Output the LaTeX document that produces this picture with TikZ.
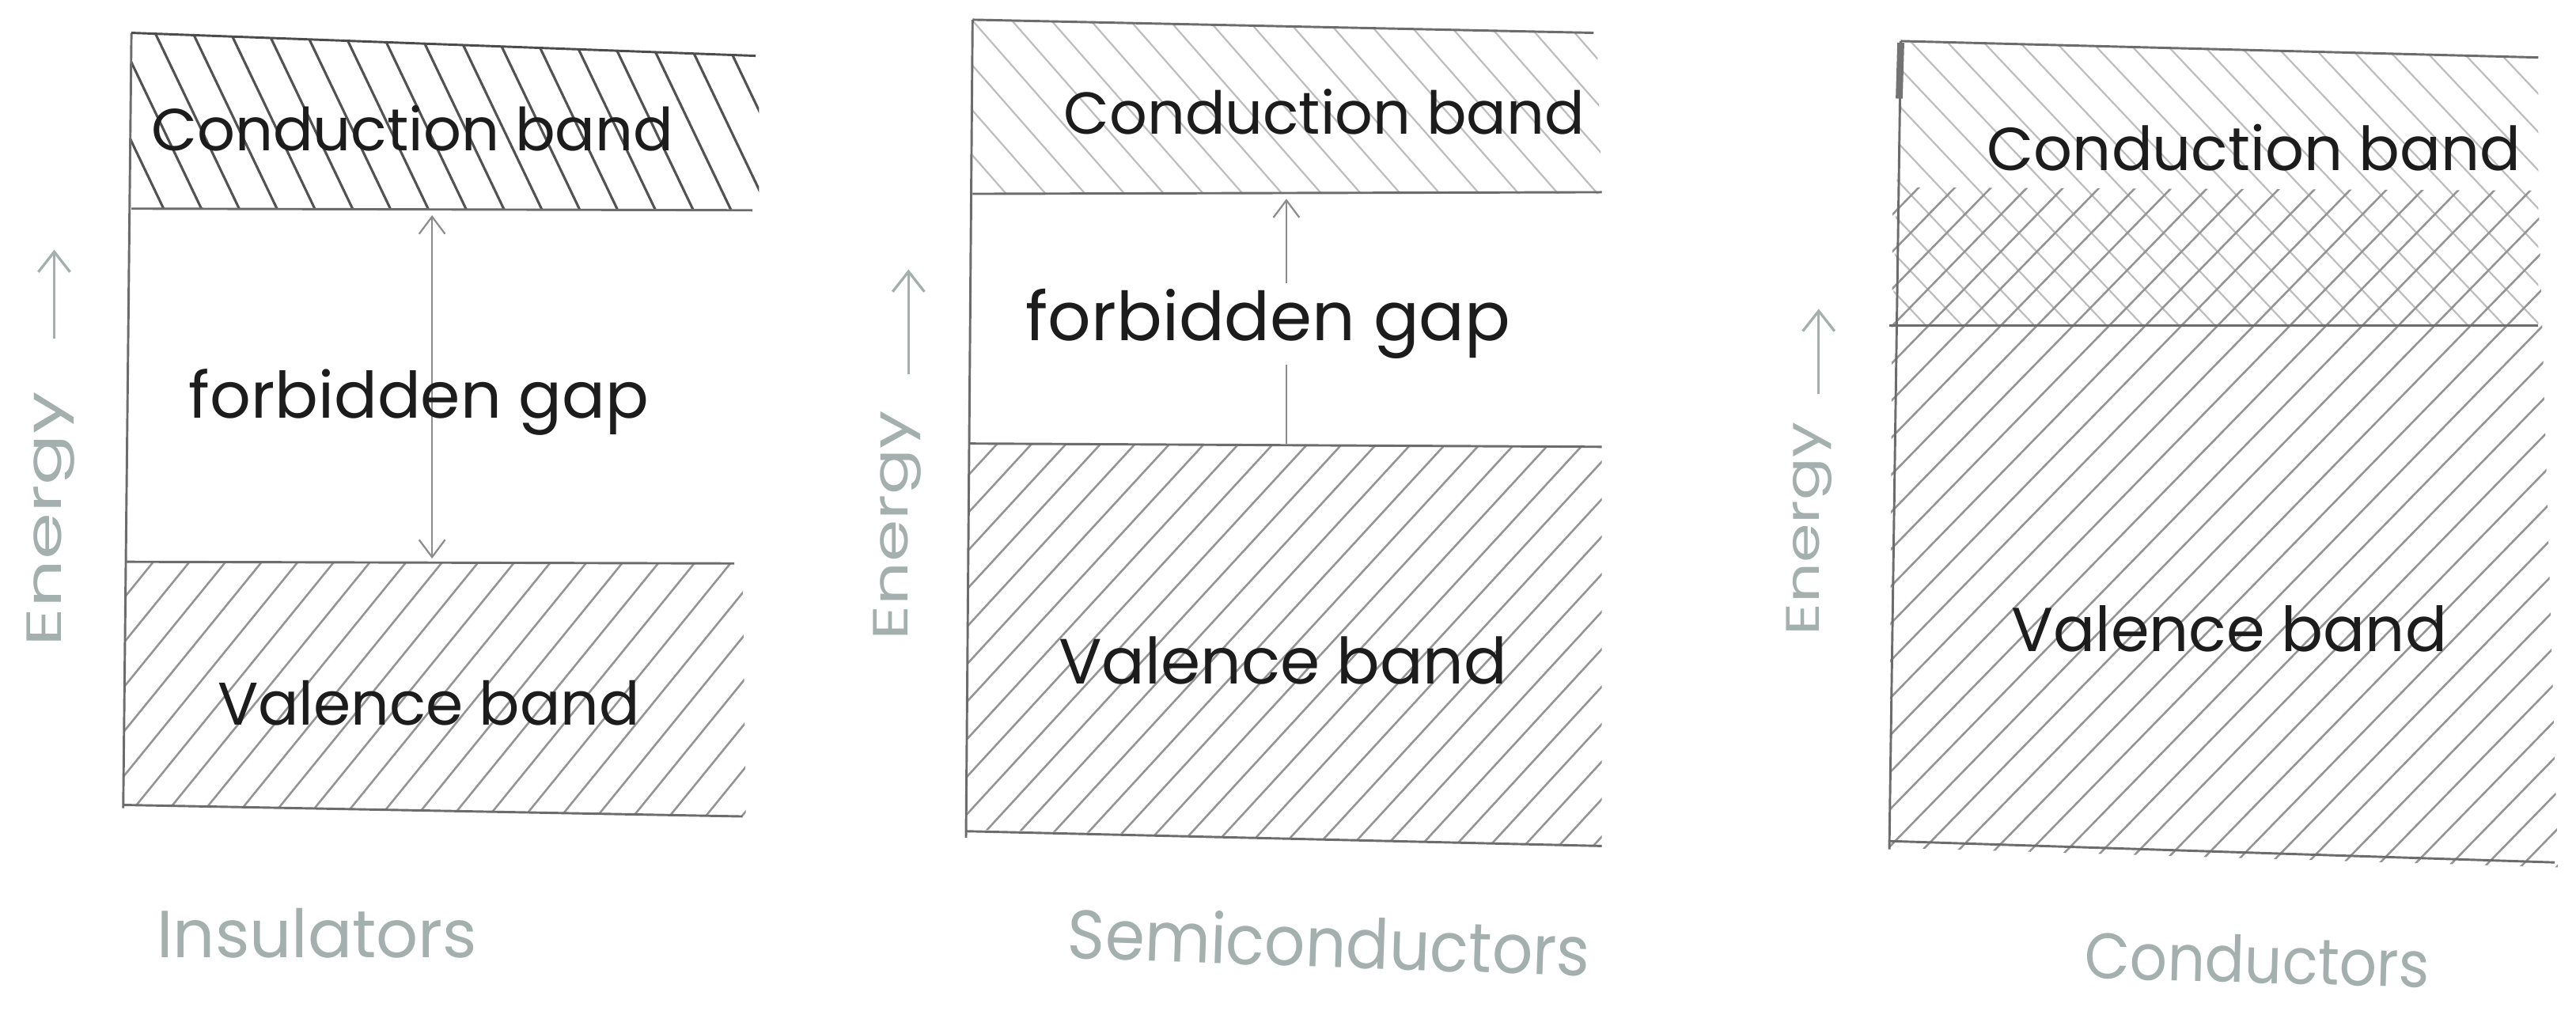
\documentclass[tikz,border=0pt]{standalone}
\usepackage{fontspec}
\usetikzlibrary{arrows.meta}
\newfontfamily\hand{Poppins}
\definecolor{ink}{HTML}{1C1C1C}
\definecolor{pale}{HTML}{A3B0AE}
\definecolor{rule}{HTML}{6C6C6C}
% set a label at a given width in the hand font
\newcommand\lab[2]{\resizebox{#1}{!}{\hand #2}}
\newcommand\plab[3]{\resizebox{#1}{#2}{\hand #3}}
% "/" hatching: xmin, xmax, ytop, ybot, spacing, horizontal run, style
\newcommand\hatchfwd[7]{%
  \pgfmathtruncatemacro\hA{#1-#6}%
  \pgfmathtruncatemacro\hB{#1-#6+#5}%
  \foreach \xx in {\hA,\hB,...,#2} \draw[#7] (\xx,#4) -- ++(#6,#3-#4);%
}
% "\" hatching: same arguments
\newcommand\hatchbwd[7]{%
  \pgfmathtruncatemacro\hA{#1-#6}%
  \pgfmathtruncatemacro\hB{#1-#6+#5}%
  \foreach \xx in {\hA,\hB,...,#2} \draw[#7] (\xx,#3) -- ++(#6,#4-#3);%
}
\tikzset{
  frame/.style={draw=rule, line width=0.8pt},
  hd/.style={draw=black!68, line width=0.85pt},
  hm/.style={draw=black!42, line width=0.7pt},
  hl/.style={draw=black!26, line width=0.6pt},
  band/.style={text=ink, inner sep=0pt},
  palelab/.style={text=pale, inner sep=0pt},
  gaparrow/.style={draw=black!45, line width=0.6pt},
  energyarrow/.style={draw=pale, line width=0.9pt, -{Straight Barb[length=7pt,width=11pt]}},
}
\begin{document}
\begin{tikzpicture}[x=0.02cm,y=-0.02cm]
\useasboundingbox[fill=white] (0,0) rectangle (1568,615);

% ---------------- Insulators ----------------
\begin{scope}
  \clip (80,20) -- (462,34) -- (462,128) -- (80,127) -- cycle;
  \hatchbwd{78}{462}{15}{130}{23}{55}{hd}
\end{scope}
\begin{scope}
  \clip (77,342) -- (452,343) -- (454,497) -- (75,490) -- cycle;
  \hatchfwd{73}{454}{340}{500}{22}{130}{hm}
\end{scope}
\draw[frame] (80,20) -- (75,492);
\draw[frame, draw=black!70] (80,20) -- (460,34);
\draw[frame] (80,127) -- (458,128);
\draw[frame] (77,342) -- (447,343);
\draw[frame] (75,490) -- (452,497);

\coordinate (ins-top) at (263,131);
\coordinate (ins-bot) at (263,340);
\draw[gaparrow, {Straight Barb[length=6pt,width=9pt]}-{Straight Barb[length=6pt,width=9pt]}] (ins-bot) -- (ins-top);

\node[band] (ins-cb) at (251,78) {\lab{6.36cm}{Conduction band}};
\node[band] (ins-gap) at (255,245) {\lab{5.6cm}{forbidden gap}};
\node[band] (ins-vb) at (261,428) {\lab{5.14cm}{Valence band}};

\coordinate (ins-e0) at (33,206);
\coordinate (ins-e1) at (33,152);
\draw[energyarrow] (ins-e0) -- (ins-e1);
\node[palelab, rotate=90] (ins-energy) at (31,316) {\plab{3.1cm}{0.42cm}{Energy}};
\node[palelab] (ins-name) at (193,568) {\plab{3.9cm}{0.6cm}{Insulators}};

% ---------------- Semiconductors ----------------
\begin{scope}
  \clip (592,12) -- (972,20) -- (975,118) -- (592,118) -- cycle;
  \hatchbwd{592}{975}{8}{122}{24}{100}{hl}
\end{scope}
\begin{scope}
  \clip (590,270) -- (975,272) -- (975,515) -- (588,505) -- cycle;
  \hatchfwd{588}{975}{268}{518}{21}{230}{hm}
\end{scope}
\draw[frame] (592,12) -- (588,510);
\draw[frame] (592,12) -- (970,20);
\draw[frame] (592,118) -- (975,117);
\draw[frame] (590,270) -- (975,272);
\draw[frame] (588,506) -- (975,515);

\coordinate (semi-bot) at (783,270);
\coordinate (semi-top) at (783,121);
\draw[gaparrow, -{Straight Barb[length=6pt,width=9pt]}] (semi-bot) -- (semi-top);

\node[band] (semi-cb) at (806,68) {\lab{6.34cm}{Conduction band}};
\node[band, fill=white, inner ysep=2pt] (semi-gap) at (772,197) {\lab{5.9cm}{forbidden gap}};
\node[band] (semi-vb) at (781,402) {\lab{5.46cm}{Valence band}};

\coordinate (semi-e0) at (553,228);
\coordinate (semi-e1) at (553,164);
\draw[energyarrow] (semi-e0) -- (semi-e1);
\node[palelab, rotate=90] (semi-energy) at (546,320) {\plab{2.8cm}{0.42cm}{Energy}};
\node[palelab, rotate=-2] (semi-name) at (809,573) {\plab{6.36cm}{0.64cm}{Semiconductors}};

% ---------------- Conductors ----------------
\begin{scope}
  \clip (1157,25) -- (1545,35) -- (1545,198) -- (1152,198) -- cycle;
  \hatchbwd{1152}{1545}{20}{200}{22}{170}{hl}
\end{scope}
\begin{scope}
  \clip (1152,114) -- (1545,116) -- (1557,528) -- (1150,516) -- cycle;
  \hatchfwd{1150}{1558}{110}{530}{22}{410}{hm}
\end{scope}
\draw[frame] (1157,25) -- (1150,517);
\draw[line width=2.4pt, draw=black!55] (1157,26) -- (1156,60);
\draw[frame] (1157,25) -- (1545,35);
\draw[frame] (1150,198) -- (1545,198);
\draw[frame] (1150,512) -- (1555,525);

\node[band] (cond-cb) at (1372,90) {\lab{6.5cm}{Conduction band}};
\node[band] (cond-vb) at (1357,383) {\lab{5.3cm}{Valence band}};

\coordinate (cond-e0) at (1107,240);
\coordinate (cond-e1) at (1107,188);
\draw[energyarrow] (cond-e0) -- (cond-e1);
\node[palelab, rotate=90] (cond-energy) at (1101,322) {\plab{2.6cm}{0.4cm}{Energy}};
\node[palelab, rotate=-1.5] (cond-name) at (1374,584) {\plab{4.2cm}{0.58cm}{Conductors}};
\end{tikzpicture}
\end{document}
